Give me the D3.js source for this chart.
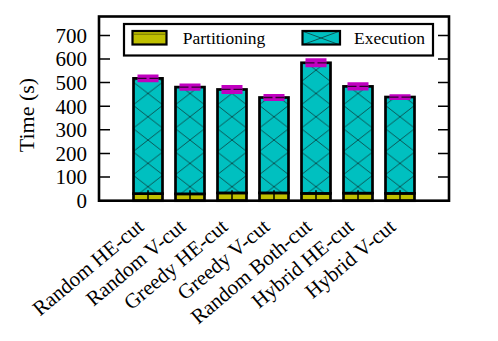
<!DOCTYPE html>
<html>
<head>
<meta charset="utf-8">
<script src="https://cdn.jsdelivr.net/npm/d3@7"></script>
<style>
  html, body { margin: 0; padding: 0; background: #fff; }
  svg { display: block; }
  text { font-family: "Liberation Serif", "Times New Roman", serif; fill: #000; }
</style>
</head>
<body>
<svg id="chart" width="498" height="341"></svg>
<script>
const categories = ["Random HE-cut", "Random V-cut", "Greedy HE-cut", "Greedy V-cut", "Random Both-cut", "Hybrid HE-cut", "Hybrid V-cut"];
const partitioning = [30, 29, 33, 33, 31, 32, 31];
const execution = [488, 452, 438, 404, 553, 452, 408];
const errors = [6, 5, 9, 5, 9, 7, 2];
const yTicks = [0, 100, 200, 300, 400, 500, 600, 700];
const seriesNames = ["Partitioning", "Execution"];

const colors = { part: "#c0c000", exec: "#00c0c0", err: "#c000c0" };

const svg = d3.select("#chart");
const pLeft = 99, pRight = 449, pTop = 16.5, pBottom = 200.7;

const x = d3.scalePoint().domain(categories).range([pLeft, pRight]).padding(1.1667);
const y = d3.scaleLinear().domain([0, 780]).range([pBottom, pTop]);
const barW = 29;

const defs = svg.append("defs");
categories.forEach((c, i) => {
  const p = defs.append("pattern")
    .attr("id", "hatch" + i)
    .attr("patternUnits", "userSpaceOnUse")
    .attr("x", x(c) - 15).attr("y", 175.0)
    .attr("width", 30).attr("height", 23.3);
  p.append("rect").attr("width", 30).attr("height", 23.3).attr("fill", colors.exec);
  p.append("path").attr("d", "M0,0L30,23.3M30,0L0,23.3")
    .attr("stroke", "#0b3b3b").attr("stroke-width", 0.8).attr("fill", "none");
});
const lp = defs.append("pattern").attr("id", "hatchLeg")
  .attr("patternUnits", "userSpaceOnUse").attr("x", 302).attr("y", 31)
  .attr("width", 38).attr("height", 14);
lp.append("rect").attr("width", 38).attr("height", 14).attr("fill", colors.exec);
lp.append("path").attr("d", "M0,0L38,14M38,0L0,14")
  .attr("stroke", "#0b3b3b").attr("stroke-width", 0.8);

const g = svg.append("g");
categories.forEach((c, i) => {
  const cx = x(c);
  const p0 = y(0), p1 = y(partitioning[i]), p2 = y(partitioning[i] + execution[i]);
  g.append("rect").attr("x", cx - barW / 2).attr("y", p1).attr("width", barW).attr("height", p0 - p1)
    .attr("fill", colors.part).attr("stroke", "#000").attr("stroke-width", 2.7);
  g.append("rect").attr("x", cx - barW / 2).attr("y", p2).attr("width", barW).attr("height", p1 - p2)
    .attr("fill", "url(#hatch" + i + ")").attr("stroke", "#000").attr("stroke-width", 2.7);
});

categories.forEach((c, i) => {
  const cx = x(c);
  const tot = partitioning[i] + execution[i];
  const yt = y(tot + errors[i]), yb = y(tot - errors[i]), ym = y(tot);
  const hw = 10.5;
  g.append("path")
    .attr("d", `M${cx - hw},${yt}H${cx + hw}M${cx - hw},${yb}H${cx + hw}M${cx},${yt}V${yb}`)
    .attr("stroke", colors.err).attr("stroke-width", 4.8).attr("fill", "none");
  g.append("path")
    .attr("d", `M${cx - hw},${ym}H${cx - 1.5}M${cx + 1.5},${ym}H${cx + hw}`)
    .attr("stroke", "#300030").attr("stroke-width", 1.3).attr("fill", "none");
});

svg.append("rect").attr("x", pLeft).attr("y", pTop).attr("width", pRight - pLeft).attr("height", pBottom - pTop)
  .attr("fill", "none").attr("stroke", "#000").attr("stroke-width", 2.6);

yTicks.forEach(t => {
  if (t === 0) return;
  svg.append("path").attr("d", `M${pLeft},${y(t)}H${pLeft + 11}M${pRight},${y(t)}H${pRight - 11}`)
    .attr("stroke", "#000").attr("stroke-width", 1.5);
});
svg.append("g").selectAll("text").data(yTicks).join("text")
  .attr("x", 87).attr("y", d => y(d)).attr("dy", "0.35em")
  .attr("text-anchor", "end").style("font-size", "21px").text(d => d);

categories.forEach(c => {
  svg.append("path").attr("d", `M${x(c)},${pBottom}V${pBottom - 10.5}`)
    .attr("stroke", "#000").attr("stroke-width", 1.5);
});
svg.append("g").selectAll("text").data(categories).join("text")
  .attr("transform", d => `translate(${x(d) - 3},${pBottom + 28}) rotate(-40)`)
  .attr("text-anchor", "end").style("font-size", "21px").text(d => d);

svg.append("text").attr("transform", "translate(34,115) rotate(-90)")
  .attr("text-anchor", "middle").style("font-size", "22px").text("Time (s)");

const leg = svg.append("g");
leg.append("rect").attr("x", 124).attr("y", 24).attr("width", 309).attr("height", 31.5)
  .attr("fill", "#fff").attr("stroke", "#000").attr("stroke-width", 2.2);
leg.append("rect").attr("x", 132.5).attr("y", 31).attr("width", 34).attr("height", 13.5)
  .attr("fill", colors.part).attr("stroke", "#000").attr("stroke-width", 2.2);
leg.append("path").attr("d", "M134,34.2H165").attr("stroke", "#5a5a00").attr("stroke-width", 0.8);
leg.append("rect").attr("x", 302.5).attr("y", 31).attr("width", 37.5).attr("height", 13.5)
  .attr("fill", "url(#hatchLeg)").attr("stroke", "#000").attr("stroke-width", 2.2);
leg.selectAll("text.lt").data(seriesNames).join("text").attr("class", "lt")
  .attr("x", (d, i) => i === 0 ? 182.7 : 354).attr("y", 44.3)
  .style("font-size", "17.5px").text(d => d);
</script>
</body>
</html>
